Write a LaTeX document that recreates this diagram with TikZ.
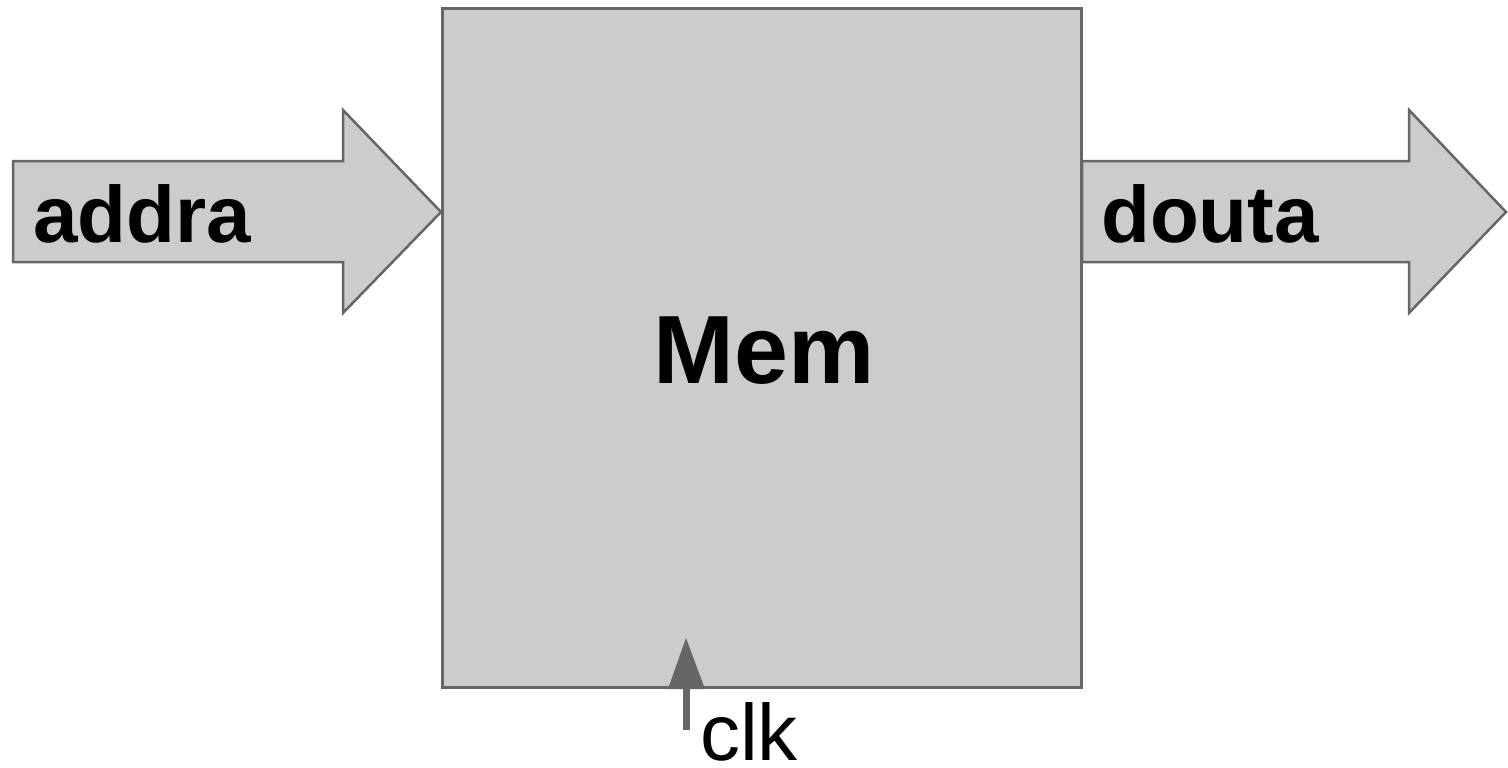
\documentclass[tikz,border=0pt]{standalone}
\usepackage{fontspec}
\setmainfont{Liberation Sans}
\definecolor{boxfill}{HTML}{CCCCCC}
\definecolor{edge}{HTML}{666666}
\begin{document}
\begin{tikzpicture}[x=1pt,y=-1pt,
  blk/.style={draw=edge,fill=boxfill,line width=3pt,line join=miter},
  barrow/.style={draw=edge,fill=boxfill,line width=2.5pt,line join=miter},
  lbl/.style={inner sep=0pt,anchor=base west,font=\bfseries\fontsize{80}{80}\selectfont},
  clkarrow/.style={draw=edge,line width=7pt}]
\useasboundingbox (0,0) rectangle (1508,768);
% memory block
\path[blk] (442,9) rectangle (1081,687);
\node[inner sep=0pt,anchor=base,font=\bfseries\fontsize{97}{97}\selectfont] (mem) at (764,383) {Mem};
% input arrow
\coordinate (intip) at (441,212);
\path[barrow] (13,161) -- (343,161) -- (343,110) -- (intip) -- (343,313) -- (343,262) -- (13,262) -- cycle;
\node[lbl] (addra) at (33,242) {addra};
% output arrow
\coordinate (outtip) at (1506,212);
\path[barrow] (1082,161) -- (1409,161) -- (1409,110) -- (outtip) -- (1409,313) -- (1409,262) -- (1082,262) -- cycle;
\node[lbl] (douta) at (1101,242) {douta};
% clk
\coordinate (clkstart) at (686,730);
\draw[clkarrow] (clkstart) -- (686,685);
\fill[edge] (668,689) -- (686,638) -- (705,689) -- cycle;
\node[inner sep=0pt,anchor=base west,font=\fontsize{80}{80}\selectfont] (clk) at (700,760) {clk};
\end{tikzpicture}
\end{document}
